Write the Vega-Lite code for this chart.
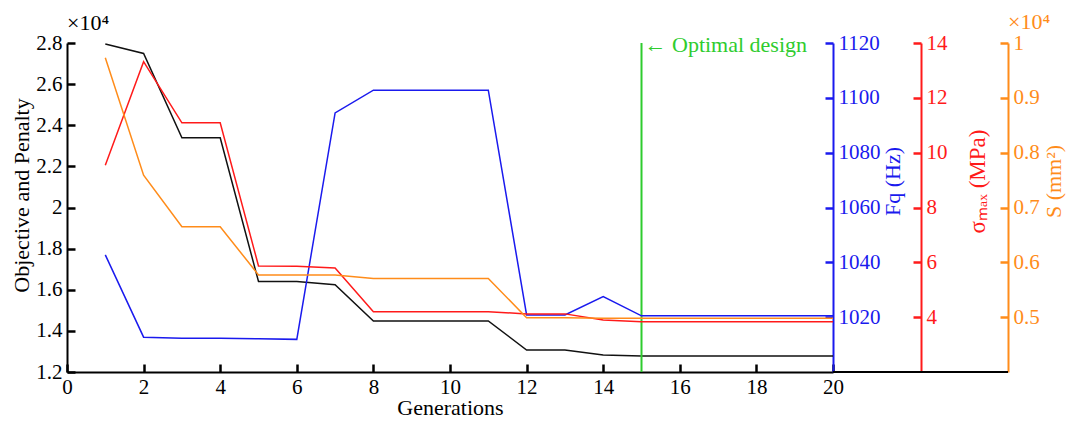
{
  "$schema": "https://vega.github.io/schema/vega-lite/v6.json",
  "width": 766,
  "height": 329,
  "autosize": {"type": "none"},
  "padding": {"left": 67, "top": 43, "right": 237, "bottom": 50},
  "background": "white",
  "config": {
    "font": "Liberation Serif",
    "view": {"stroke": null},
    "axis": {
      "grid": false,
      "labelFont": "Liberation Serif",
      "labelFontSize": 21,
      "titleFont": "Liberation Serif",
      "titleFontSize": 22,
      "titleFontWeight": "normal",
      "domainWidth": 2,
      "tickWidth": 2.5,
      "tickSize": -8,
      "labelPadding": 13,
      "labelFlush": false,
      "labelOverlap": false
    },
    "text": {"font": "Liberation Serif", "fontSize": 22}
  },
  "datasets": {
    "series": [
      {"gen": 1, "obj": 27950, "fq": 1042.7, "sigma": 9.54, "s": 9730},
      {"gen": 2, "obj": 27490, "fq": 1012.7, "sigma": 13.32, "s": 7590},
      {"gen": 3, "obj": 23390, "fq": 1012.3, "sigma": 11.09, "s": 6650},
      {"gen": 4, "obj": 23390, "fq": 1012.3, "sigma": 11.09, "s": 6650},
      {"gen": 5, "obj": 16400, "fq": 1012.1, "sigma": 5.87, "s": 5770},
      {"gen": 6, "obj": 16400, "fq": 1011.9, "sigma": 5.86, "s": 5770},
      {"gen": 7, "obj": 16240, "fq": 1094.5, "sigma": 5.79, "s": 5770},
      {"gen": 8, "obj": 14480, "fq": 1102.8, "sigma": 4.2, "s": 5705},
      {"gen": 9, "obj": 14480, "fq": 1102.8, "sigma": 4.2, "s": 5705},
      {"gen": 10, "obj": 14480, "fq": 1102.8, "sigma": 4.2, "s": 5705},
      {"gen": 11, "obj": 14480, "fq": 1102.8, "sigma": 4.2, "s": 5705},
      {"gen": 12, "obj": 13070, "fq": 1020.8, "sigma": 4.12, "s": 4990},
      {"gen": 13, "obj": 13070, "fq": 1020.8, "sigma": 4.12, "s": 4990},
      {"gen": 14, "obj": 12830, "fq": 1027.5, "sigma": 3.9, "s": 4980},
      {"gen": 15, "obj": 12780, "fq": 1020.5, "sigma": 3.83, "s": 4980},
      {"gen": 16, "obj": 12780, "fq": 1020.5, "sigma": 3.83, "s": 4980},
      {"gen": 17, "obj": 12780, "fq": 1020.5, "sigma": 3.83, "s": 4980},
      {"gen": 18, "obj": 12780, "fq": 1020.5, "sigma": 3.83, "s": 4980},
      {"gen": 19, "obj": 12780, "fq": 1020.5, "sigma": 3.83, "s": 4980},
      {"gen": 20, "obj": 12780, "fq": 1020.5, "sigma": 3.83, "s": 4980}
    ],
    "optimal": [{"gen": 15, "obj": 28000, "label": "← Optimal design"}],
    "leftExp": [{"gen": 0, "obj": 28000, "label": "×10⁴"}],
    "baseExt": [{"gen": 20, "gen2": 24.57, "obj": 12000}],
    "rightExp": [{"gen": 24.57, "s": 10000, "label": "×10⁴"}]
  },
  "data": {"name": "series"},
  "encoding": {
    "x": {
      "field": "gen",
      "type": "quantitative",
      "scale": {"domain": [0, 20], "nice": false, "zero": false},
      "axis": {
        "orient": "bottom",
        "title": "Generations",
        "values": [0, 2, 4, 6, 8, 10, 12, 14, 16, 18, 20],
        "domainColor": "black",
        "tickColor": "black",
        "labelColor": "black",
        "titleColor": "black",
        "labelPadding": 12,
        "titlePadding": 0
      }
    }
  },
  "layer": [
    {
      "layer": [
        {
          "mark": {"type": "line", "color": "#111111", "strokeWidth": 1.5},
          "encoding": {
            "y": {
              "field": "obj",
              "type": "quantitative",
              "scale": {"domain": [12000, 28000], "nice": false, "zero": false},
              "axis": {
                "orient": "left",
                "title": "Objective and Penalty",
                "values": [12000, 14000, 16000, 18000, 20000, 22000, 24000, 26000, 28000],
                "labelExpr": "format(datum.value / 10000, '.1~f')",
                "domainColor": "black",
                "tickColor": "black",
                "labelColor": "black",
                "titleColor": "black",
                "titlePadding": 2,
                "titleY": 152
              }
            }
          }
        },
        {
          "data": {"name": "baseExt"},
          "mark": {"type": "rule", "color": "black", "strokeWidth": 2},
          "encoding": {
            "x2": {"field": "gen2"},
            "y": {"field": "obj", "type": "quantitative"}
          }
        },
        {
          "data": {"name": "optimal"},
          "mark": {"type": "rule", "color": "#2ecc2e", "strokeWidth": 2},
          "encoding": {}
        },
        {
          "data": {"name": "optimal"},
          "mark": {"type": "text", "color": "#2ecc2e", "align": "left", "baseline": "middle", "dx": 3, "dy": 2},
          "encoding": {
            "y": {"field": "obj", "type": "quantitative"},
            "text": {"field": "label"}
          }
        },
        {
          "data": {"name": "leftExp"},
          "mark": {"type": "text", "color": "black", "align": "left", "baseline": "alphabetic", "dy": -13},
          "encoding": {
            "y": {"field": "obj", "type": "quantitative"},
            "text": {"field": "label"}
          }
        }
      ]
    },
    {
      "mark": {"type": "line", "color": "#1a1aee", "strokeWidth": 1.5},
      "encoding": {
        "y": {
          "field": "fq",
          "type": "quantitative",
          "scale": {"domain": [1000, 1120], "nice": false, "zero": false},
          "axis": {
            "orient": "right",
            "offset": 0,
            "title": "Fq (Hz)",
            "format": "d",
            "values": [1020, 1040, 1060, 1080, 1100, 1120],
            "domainColor": "#1a1aee",
            "tickColor": "#1a1aee",
            "labelColor": "#1a1aee",
            "titleColor": "#1a1aee",
            "titleAngle": 270,
            "titleBaseline": "top",
            "titlePadding": 2,
            "titleY": 138
          }
        }
      }
    },
    {
      "mark": {"type": "line", "color": "#ff1a1a", "strokeWidth": 1.5},
      "encoding": {
        "y": {
          "field": "sigma",
          "type": "quantitative",
          "scale": {"domain": [2, 14], "nice": false, "zero": false},
          "axis": {
            "orient": "right",
            "offset": 88,
            "title": "σₘₐₓ (MPa)",
            "format": "d",
            "values": [4, 6, 8, 10, 12, 14],
            "domainColor": "#ff1a1a",
            "tickColor": "#ff1a1a",
            "labelColor": "#ff1a1a",
            "titleColor": "#ff1a1a",
            "titleAngle": 270,
            "titleBaseline": "top",
            "titleFontSize": 23,
            "titlePadding": 19,
            "titleY": 138
          }
        }
      }
    },
    {
      "layer": [
        {
          "mark": {"type": "line", "color": "#ff8c1a", "strokeWidth": 1.5},
          "encoding": {
            "y": {
              "field": "s",
              "type": "quantitative",
              "scale": {"domain": [4000, 10000], "nice": false, "zero": false},
              "axis": {
                "orient": "right",
                "offset": 175,
                "title": "S (mm²)",
                "values": [5000, 6000, 7000, 8000, 9000, 10000],
                "labelExpr": "format(datum.value / 10000, '.1~f')",
                "domainColor": "#ff8c1a",
                "tickColor": "#ff8c1a",
                "labelColor": "#ff8c1a",
                "titleColor": "#ff8c1a",
                "titleAngle": 270,
                "titleBaseline": "top",
                "titlePadding": 4,
                "titleY": 138
              }
            }
          }
        },
        {
          "data": {"name": "rightExp"},
          "mark": {"type": "text", "color": "#ff8c1a", "align": "left", "baseline": "alphabetic", "dy": -14},
          "encoding": {
            "y": {"field": "s", "type": "quantitative"},
            "text": {"field": "label"}
          }
        }
      ]
    }
  ],
  "resolve": {"scale": {"y": "independent"}}
}
